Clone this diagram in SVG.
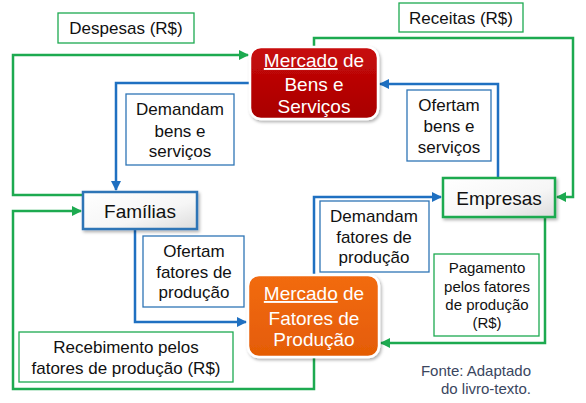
<svg xmlns="http://www.w3.org/2000/svg" width="586" height="403" viewBox="0 0 586 403">
<defs>
  <style>
    text { font-family: "Liberation Sans", Arial, sans-serif; }
    .lbl { font-size: 17px; fill: #111; text-anchor: middle; }
    .lbs { font-size: 15px; fill: #111; text-anchor: middle; }
    .node { font-size: 19px; text-anchor: middle; }
    .wn { fill: #fff; }
    .g { fill: none; stroke: #1DAA50; stroke-width: 2.5; }
    .b { fill: none; stroke: #1F70C1; stroke-width: 2.5; }
    .gbox { fill: #fff; stroke: #1DAA50; stroke-width: 1.3; }
    .bbox { fill: #fff; stroke: #2E75B6; stroke-width: 1.3; }
    .src { font-size: 15px; fill: #3A4660; text-anchor: end; }
  </style>
  <marker id="ag" viewBox="0 0 10 10" refX="9" refY="5" markerWidth="4" markerHeight="4" orient="auto" markerUnits="strokeWidth">
    <path d="M0,0 L10,5 L0,10 z" fill="#1DAA50"/>
  </marker>
  <marker id="ab" viewBox="0 0 10 10" refX="9" refY="5" markerWidth="4" markerHeight="4" orient="auto" markerUnits="strokeWidth">
    <path d="M0,0 L10,5 L0,10 z" fill="#1F70C1"/>
  </marker>
  <linearGradient id="red" x1="0" y1="0" x2="0" y2="1">
    <stop offset="0" stop-color="#C80A0A"/>
    <stop offset="1" stop-color="#A80000"/>
  </linearGradient>
  <linearGradient id="org" x1="0" y1="0" x2="0" y2="1">
    <stop offset="0" stop-color="#F26B12"/>
    <stop offset="1" stop-color="#E45C05"/>
  </linearGradient>
  <linearGradient id="bev" x1="0" y1="0" x2="1" y2="1">
    <stop offset="0" stop-color="#ffffff"/>
    <stop offset="0.6" stop-color="#f6f6f6"/>
    <stop offset="1" stop-color="#dcdcdc"/>
  </linearGradient>
  <filter id="sh" x="-10%" y="-10%" width="125%" height="130%">
    <feDropShadow dx="1.5" dy="2" stdDeviation="1.5" flood-color="#000" flood-opacity="0.3"/>
  </filter>
</defs>
<rect width="586" height="403" fill="#fff"/>

<g id="connectors">
  <path class="g" d="M83,195 H13 V55 H248" marker-end="url(#ag)"/>
  <path class="g" d="M314,47 V38 H573 V197 H557" marker-end="url(#ag)"/>
  <path class="g" d="M545,217 V343 H381" marker-end="url(#ag)"/>
  <path class="g" d="M314,357 V389 H13 V211 H81" marker-end="url(#ag)"/>
  <path class="b" d="M250,83 H116 V190" marker-end="url(#ab)"/>
  <path class="b" d="M498,178 V84 H380" marker-end="url(#ab)"/>
  <path class="b" d="M135,229 V322 H246" marker-end="url(#ab)"/>
  <path class="b" d="M314,275 V197 H441" marker-end="url(#ab)"/>
</g>

<g id="mercado-bens">
  <rect x="250" y="47" width="128" height="72" rx="11" fill="url(#red)" stroke="#fff" stroke-width="2.5" filter="url(#sh)"/>
  <text class="node wn" x="314" y="67"><tspan text-decoration="underline">Mercado</tspan> de</text>
  <text class="node wn" x="314" y="91">Bens e</text>
  <text class="node wn" x="314" y="113">Serviços</text>
</g>

<g id="familias">
  <rect x="83" y="192" width="114" height="37" fill="url(#bev)" stroke="#2E75B6" stroke-width="2.5" filter="url(#sh)"/>
  <text class="node" x="140" y="218" fill="#111">Famílias</text>
</g>

<g id="empresas">
  <rect x="443" y="178" width="112" height="39" fill="url(#bev)" stroke="#1DAA50" stroke-width="2.5" filter="url(#sh)"/>
  <text class="node" x="499" y="205" fill="#111">Empresas</text>
</g>

<g id="mercado-fatores">
  <rect x="248" y="275" width="131" height="82" rx="11" fill="url(#org)" stroke="#fff" stroke-width="2.5" filter="url(#sh)"/>
  <text class="node wn" x="314" y="300"><tspan text-decoration="underline">Mercado</tspan> de</text>
  <text class="node wn" x="314" y="325">Fatores de</text>
  <text class="node wn" x="314" y="346">Produção</text>
</g>

<g id="lbl-despesas">
  <rect class="gbox" x="58" y="13" width="136" height="30"/>
  <text class="lbl" x="126" y="34">Despesas (R$)</text>
</g>
<g id="lbl-receitas">
  <rect class="gbox" x="399" y="3" width="124" height="29"/>
  <text class="lbl" x="461" y="24">Receitas (R$)</text>
</g>
<g id="lbl-demandam-bens">
  <rect class="bbox" x="126" y="94" width="108" height="71"/>
  <text class="lbl" x="180" y="115">Demandam</text>
  <text class="lbl" x="180" y="137">bens e</text>
  <text class="lbl" x="180" y="157">serviços</text>
</g>
<g id="lbl-ofertam-bens">
  <rect class="bbox" x="407" y="90" width="84" height="71"/>
  <text class="lbl" x="449" y="111">Ofertam</text>
  <text class="lbl" x="449" y="132">bens e</text>
  <text class="lbl" x="449" y="153">serviços</text>
</g>
<g id="lbl-ofertam-fatores">
  <rect class="bbox" x="143" y="236" width="101" height="71"/>
  <text class="lbl" x="194" y="257">Ofertam</text>
  <text class="lbl" x="194" y="278">fatores de</text>
  <text class="lbl" x="194" y="298">produção</text>
</g>
<g id="lbl-demandam-fatores">
  <rect class="bbox" x="320" y="201" width="109" height="71"/>
  <text class="lbl" x="374" y="222">Demandam</text>
  <text class="lbl" x="374" y="243">fatores de</text>
  <text class="lbl" x="374" y="263">produção</text>
</g>
<g id="lbl-pagamento">
  <rect class="gbox" x="434" y="254" width="105" height="82"/>
  <text class="lbs" x="487" y="273">Pagamento</text>
  <text class="lbs" x="487" y="292">pelos fatores</text>
  <text class="lbs" x="487" y="310">de produção</text>
  <text class="lbs" x="487" y="328">(R$)</text>
</g>
<g id="lbl-recebimento">
  <rect class="gbox" x="19" y="332" width="214" height="50"/>
  <text class="lbl" x="126" y="353">Recebimento pelos</text>
  <text class="lbl" x="126" y="374">fatores de produção (R$)</text>
</g>
<g id="fonte">
  <text class="src" x="531" y="376">Fonte: Adaptado</text>
  <text class="src" x="531" y="394">do livro-texto.</text>
</g>
</svg>
